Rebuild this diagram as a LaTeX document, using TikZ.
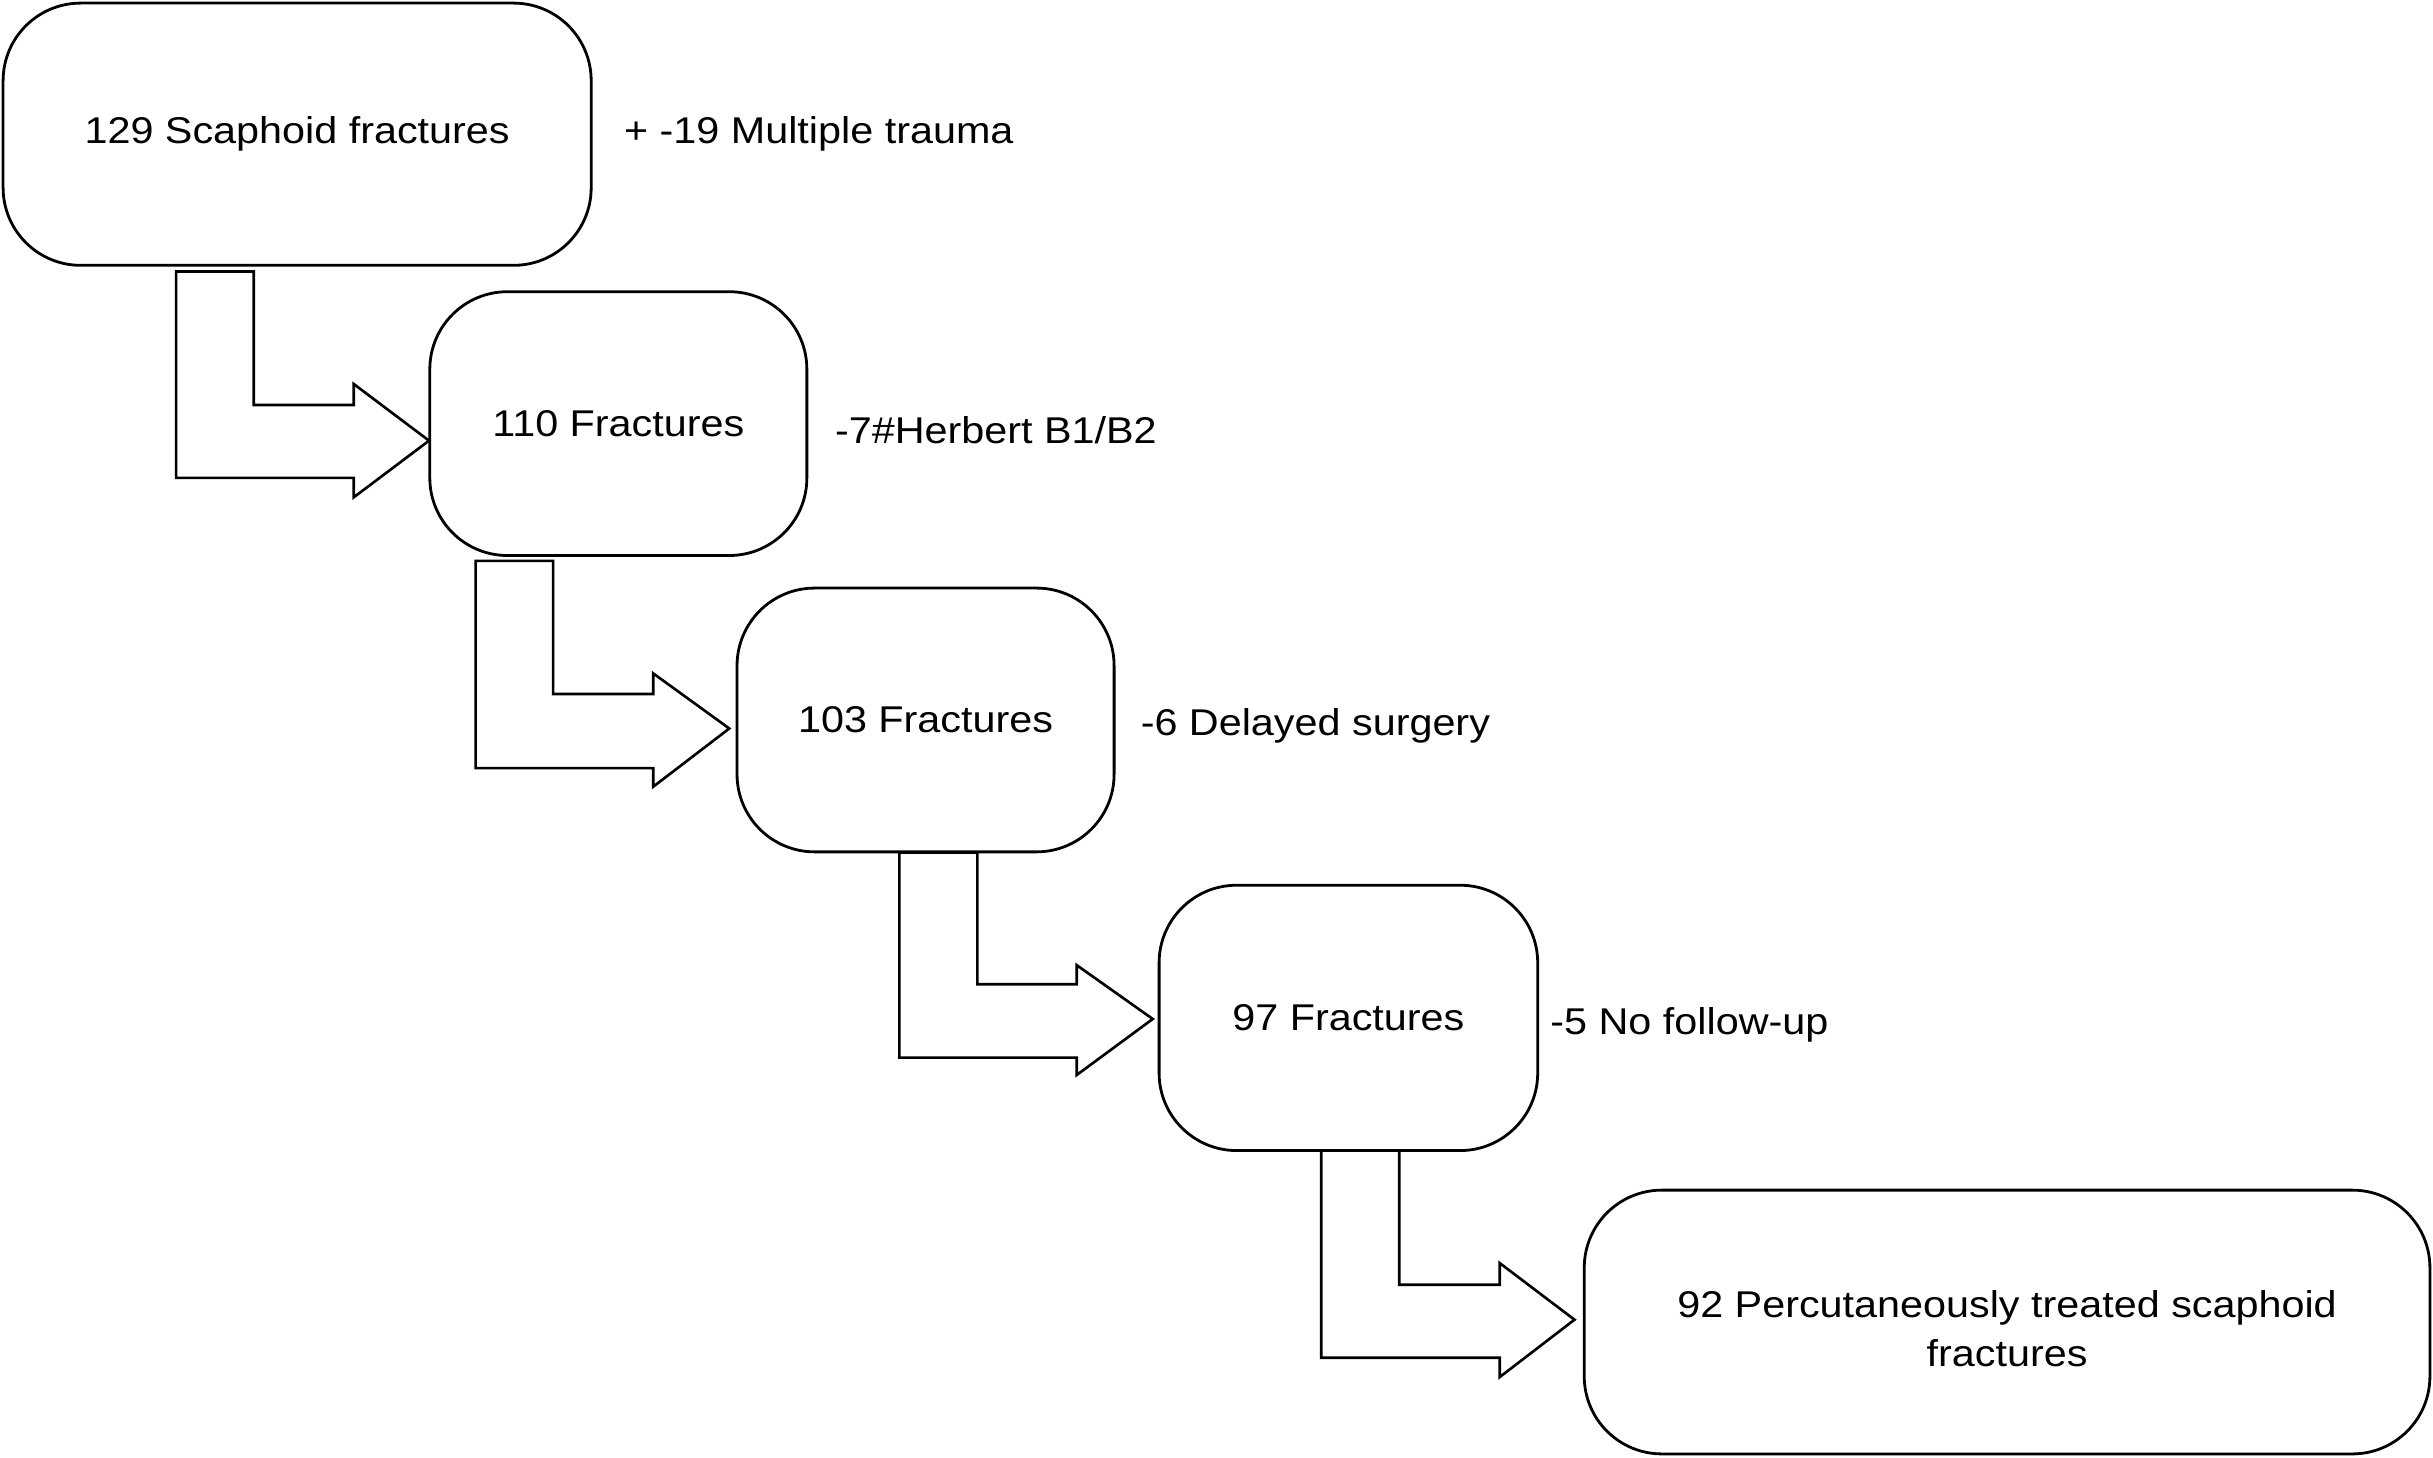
\documentclass[tikz,border=0pt]{standalone}
\usepackage{fontspec}
\setmainfont{Liberation Sans}[FakeStretch=1.11]
\newcommand\diagfont{\fontsize{24}{31.5}\selectfont}
\begin{document}
\begin{tikzpicture}[x=1pt,y=-1pt,line join=miter,
  box/.style={draw, rectangle, line width=1.8pt, rounded corners=50pt,
    inner sep=0pt, align=center, font=\diagfont},
  lbl/.style={anchor=base west, inner sep=0pt, font=\diagfont},
  blockarrow/.style={draw, line width=1.7pt, fill=white}]
\useasboundingbox (0,0) rectangle (1568,939);

\node[box, minimum width=379pt, minimum height=169pt] (b1) at (191.5,86.5) {129 Scaphoid fractures};
\node[box, minimum width=243pt, minimum height=170pt] (b2) at (398.5,273) {110 Fractures};
\node[box, minimum width=243pt, minimum height=170pt] (b3) at (596.5,464) {103 Fractures};
\node[box, minimum width=244pt, minimum height=171pt] (b4) at (869,656) {97 Fractures};
\node[box, minimum width=545pt, minimum height=170pt, text height=58pt] (b5) at (1293.5,852) {92 Percutaneously treated scaphoid\\fractures};

\node[lbl] (l1) at (402,92.4) {+ -19 Multiple trauma};
\node[lbl] (l2) at (538,285.5) {-7\#Herbert B1/B2};
\node[lbl] (l3) at (735,473.7) {-6 Delayed surgery};
\node[lbl] (l4) at (999,666.4) {-5 No follow-up};

\coordinate (a1) at (113.5,175);
\coordinate (t1) at (276.5,284);
\draw[blockarrow] (a1) -- (163.5,175) -- (163.5,261) -- (228,261) -- (228,247.5)
  -- (t1) -- (228,320.5) -- (228,308) -- (113.5,308) -- cycle;

\coordinate (a2) at (306.5,361.5);
\coordinate (t2) at (470,469.5);
\draw[blockarrow] (a2) -- (356.5,361.5) -- (356.5,447.3) -- (421,447.3) -- (421,434)
  -- (t2) -- (421,507) -- (421,495) -- (306.5,495) -- cycle;

\coordinate (a3) at (579.6,549.5);
\coordinate (t3) at (742.9,656.7);
\draw[blockarrow] (a3) -- (629.9,549.5) -- (629.9,634.3) -- (693.9,634.3) -- (693.9,622)
  -- (t3) -- (693.9,692.8) -- (693.9,681.6) -- (579.6,681.6) -- cycle;

\coordinate (a4) at (851.5,741.5);
\coordinate (t4) at (1014.7,850.5);
\draw[blockarrow] (a4) -- (901.8,741.5) -- (901.8,828) -- (966.5,828) -- (966.5,814)
  -- (t4) -- (966.5,887.5) -- (966.5,875) -- (851.5,875) -- cycle;
\end{tikzpicture}
\end{document}
